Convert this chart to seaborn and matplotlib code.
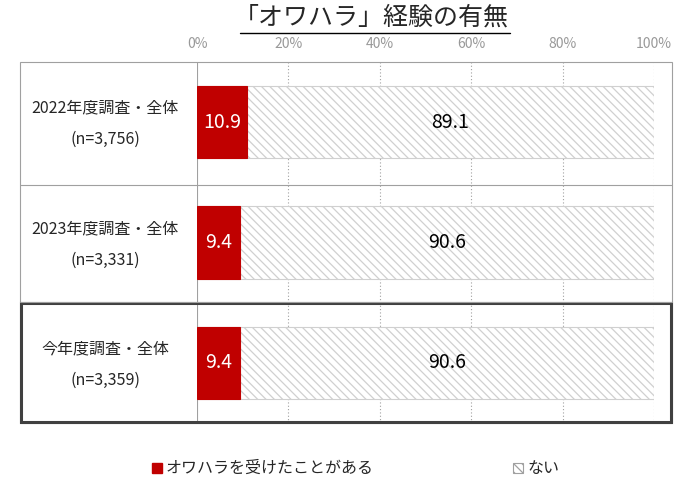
import matplotlib
matplotlib.use("Agg")
import matplotlib.pyplot as plt
import seaborn as sns
import pandas as pd
from matplotlib.patches import Rectangle

categories = ["2022年度調査・全体\n(n=3,756)", "2023年度調査・全体\n(n=3,331)", "今年度調査・全体\n(n=3,359)"]
yes_vals = [10.9, 9.4, 9.4]
no_vals = [89.1, 90.6, 90.6]
ticks = [0, 20, 40, 60, 80, 100]
tick_labels = ["0%", "20%", "40%", "60%", "80%", "100%"]

sns.set_theme(style="white")
plt.rcParams['font.family'] = ['Noto Sans CJK JP', 'DejaVu Sans']
plt.rcParams['hatch.color'] = '#cfcfcf'
plt.rcParams['hatch.linewidth'] = 0.9

W, H = 700, 484
fig = plt.figure(figsize=(W/100, H/100), dpi=100)
ax = fig.add_axes([197/W, 1-423/H, (654-197)/W, (423-62)/H])

df = pd.DataFrame({"cat": categories, "yes": yes_vals, "no": no_vals})
df["total"] = df["yes"] + df["no"]
sns.barplot(data=df, x="total", y="cat", ax=ax, color="white", edgecolor="#d0d0d0",
            hatch="\\\\\\\\", width=0.6, linewidth=0.8)
sns.barplot(data=df, x="yes", y="cat", ax=ax, color="#C00000", edgecolor="#C00000",
            width=0.6, linewidth=0.8, saturation=1)

for i, (y, n) in enumerate(zip(yes_vals, no_vals)):
    ax.text(y/2, i, f"{y}", ha="center", va="center", color="white", fontsize=14)
    ax.text(y + n/2, i, f"{n}", ha="center", va="center", color="black", fontsize=14)

ax.set_xlim(0, 100)
ax.set_ylim(2.5, -0.5)
ax.set_xticks(ticks)
ax.set_xticklabels(tick_labels, color="#999999", fontsize=10)
ax.xaxis.tick_top()
ax.tick_params(axis="x", length=0, pad=8)
ax.set_yticks([])
ax.set_xlabel(""); ax.set_ylabel("")
for s in ax.spines.values():
    s.set_visible(False)
for t in ticks[1:]:
    ax.axvline(t, color="#a0a0a0", linestyle=(0, (1, 2)), linewidth=0.8, zorder=0)
ax.axvline(0, color="#a0a0a0", linewidth=0.8, zorder=0)

def fx(x): return x/W
def fy(y): return 1 - y/H
fig.add_artist(Rectangle((fx(20), fy(423)), fx(672)-fx(20), fy(62)-fy(423), fill=False,
                         edgecolor="#a0a0a0", linewidth=0.8, transform=fig.transFigure))
for yy in [185, 302]:
    fig.add_artist(plt.Line2D([fx(20), fx(672)], [fy(yy), fy(yy)], color="#a0a0a0",
                              linewidth=0.8, transform=fig.transFigure))
fig.add_artist(Rectangle((fx(21), fy(422)), fx(671)-fx(21), fy(303)-fy(422), fill=False,
                         edgecolor="#404040", linewidth=2.2, transform=fig.transFigure))

for cat, yc in zip(categories, [124, 245, 365]):
    fig.text(fx(105), fy(yc), cat, ha="center", va="center", fontsize=11.5, linespacing=2.1)

fig.text(0.53, fy(18), "「オワハラ」経験の有無", ha="center", va="center", fontsize=18)
fig.add_artist(plt.Line2D([fx(240), fx(510)], [fy(33), fy(33)], color="black", linewidth=1,
                          transform=fig.transFigure))

fig.add_artist(Rectangle((fx(152), fy(473)), 10/W, 10/H, facecolor="#C00000",
                         edgecolor="#C00000", transform=fig.transFigure))
fig.text(fx(166), fy(468), "オワハラを受けたことがある", va="center", fontsize=11.5)
fig.add_artist(Rectangle((fx(513), fy(473)), 10/W, 10/H, facecolor="white", hatch="\\\\\\\\",
                         edgecolor="#a0a0a0", linewidth=0.8, transform=fig.transFigure))
fig.text(fx(527), fy(468), "ない", va="center", fontsize=11.5)

fig.savefig("out.png", dpi=100)
